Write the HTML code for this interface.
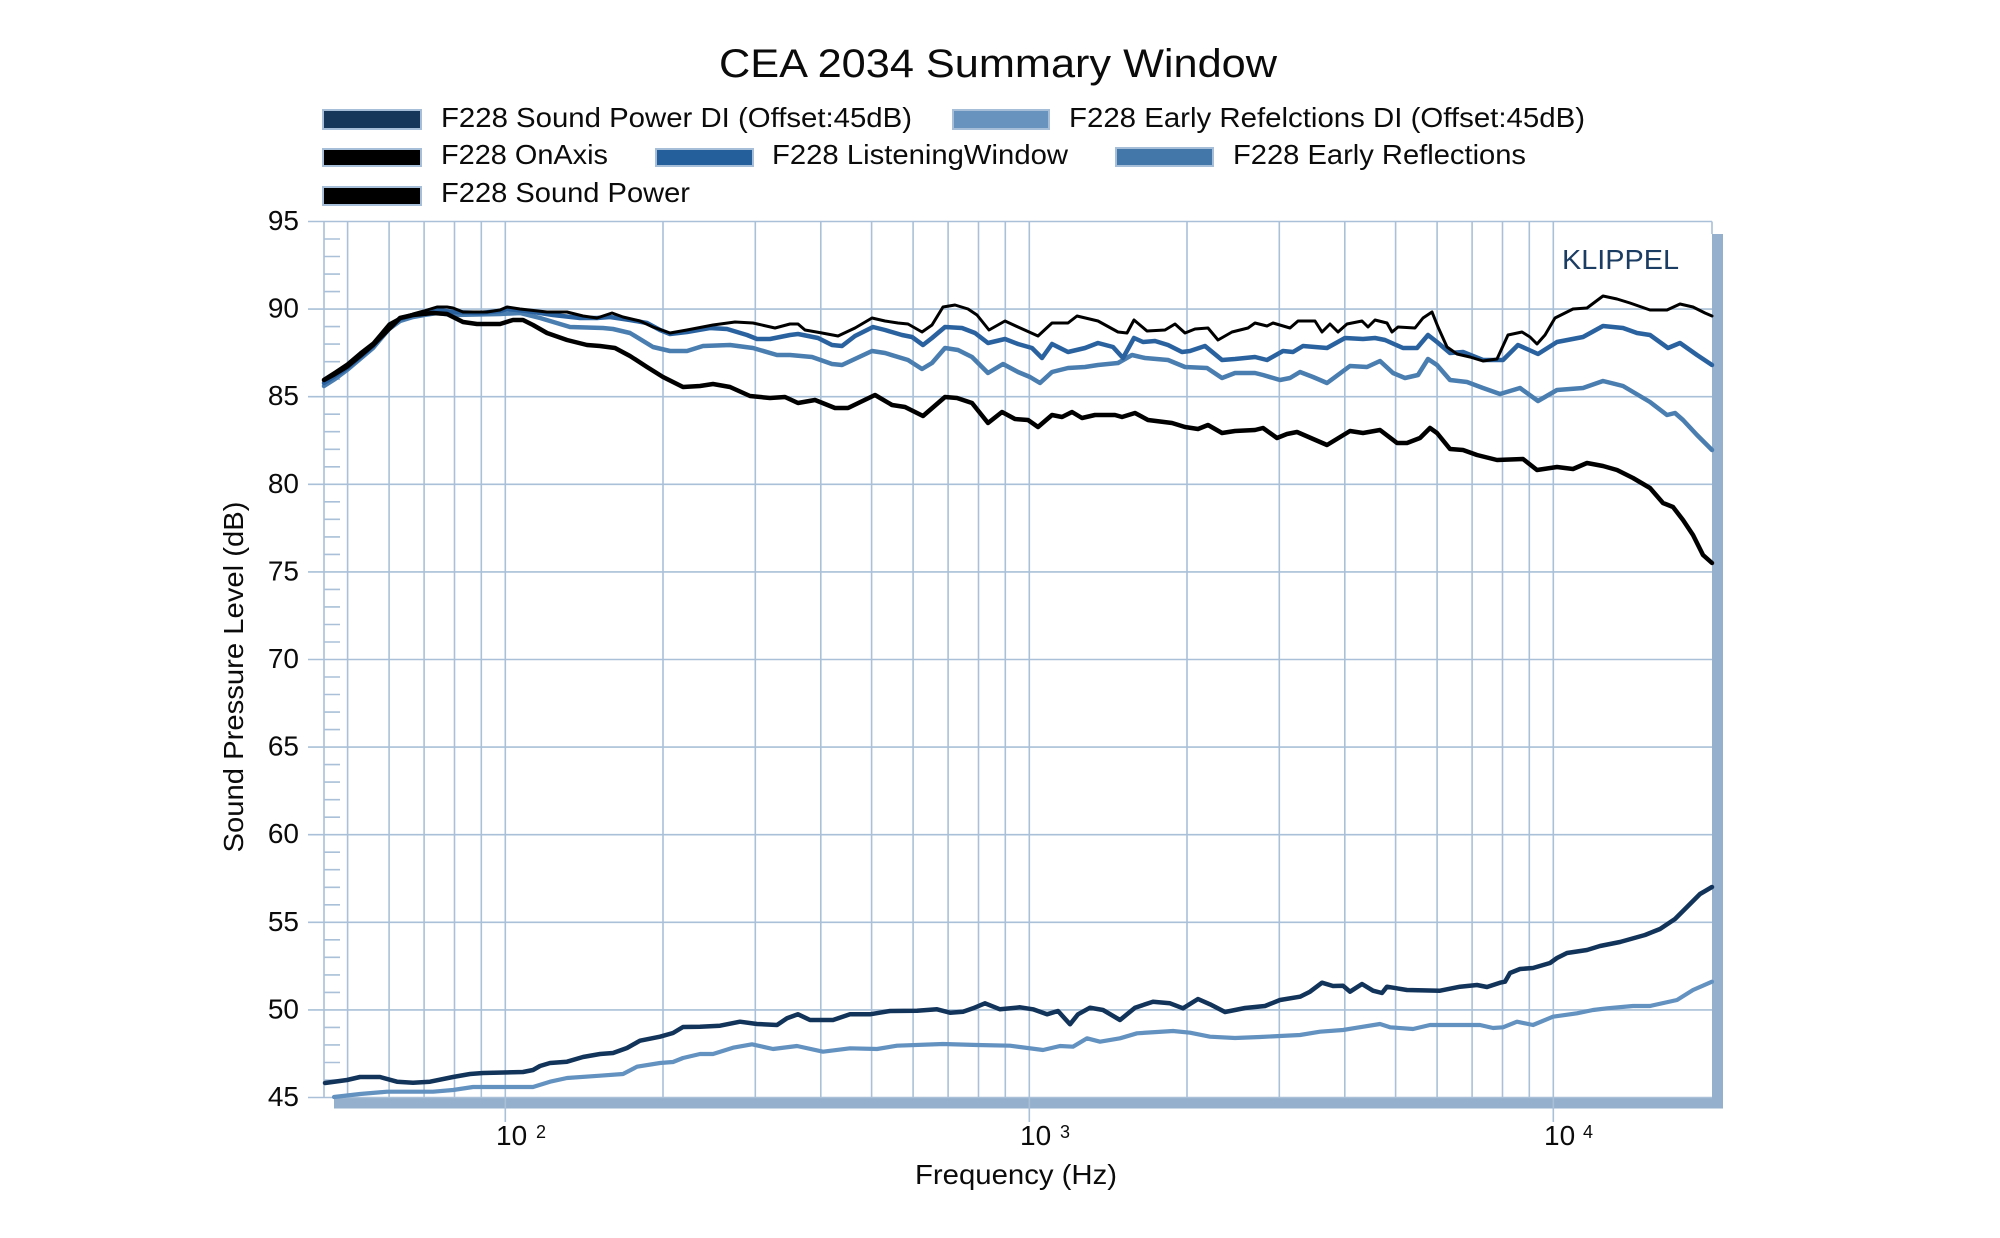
<!DOCTYPE html>
<html>
<head>
<meta charset="utf-8">
<style>
html,body{margin:0;padding:0;background:#fff;}
svg{display:block;}
text{font-family:"Liberation Sans",Arial,sans-serif;fill:#0b0b0b;}
</style>
</head>
<body>
<svg width="2000" height="1238" viewBox="0 0 2000 1238" xmlns="http://www.w3.org/2000/svg">
<rect x="0" y="0" width="2000" height="1238" fill="#fff"/>

<!-- Title -->
<text x="719" y="77" font-size="40" textLength="558" lengthAdjust="spacingAndGlyphs">CEA 2034 Summary Window</text>

<!-- Legend -->
<g stroke="#a6bed7" stroke-width="2">
<rect x="323" y="110" width="98" height="19" fill="#17375a"/>
<rect x="953" y="110" width="96" height="19" fill="#6893be"/>
<rect x="323" y="149" width="98" height="17" fill="#000"/>
<rect x="656" y="149" width="97" height="17" fill="#245f9b"/>
<rect x="1116" y="148" width="97" height="18" fill="#4477a9"/>
<rect x="323" y="187" width="98" height="18" fill="#000"/>
</g>
<g font-size="28">
<text x="441" y="127" textLength="471" lengthAdjust="spacingAndGlyphs">F228 Sound Power DI (Offset:45dB)</text>
<text x="1069" y="127" textLength="516" lengthAdjust="spacingAndGlyphs">F228 Early Refelctions DI (Offset:45dB)</text>
<text x="441" y="164" textLength="167" lengthAdjust="spacingAndGlyphs">F228 OnAxis</text>
<text x="772" y="164" textLength="296" lengthAdjust="spacingAndGlyphs">F228 ListeningWindow</text>
<text x="1233" y="164" textLength="293" lengthAdjust="spacingAndGlyphs">F228 Early Reflections</text>
<text x="441" y="202" textLength="249" lengthAdjust="spacingAndGlyphs">F228 Sound Power</text>
</g>

<!-- Shadow bars -->
<rect x="334" y="1098" width="1389" height="10.5" fill="#94b0cc"/>
<rect x="1712" y="234" width="11" height="874.5" fill="#94b0cc"/>

<!-- Grid -->
<g stroke="#a9c0d8" stroke-width="1.6" fill="none">
<!-- vertical gridlines -->
<path d="M347.6 221.5V1097.5M389.1 221.5V1097.5M424.1 221.5V1097.5M454.5 221.5V1097.5M481.3 221.5V1097.5M505.3 221.5V1122M663 221.5V1097.5M755.3 221.5V1097.5M820.8 221.5V1097.5M871.6 221.5V1097.5M913.1 221.5V1097.5M948.1 221.5V1097.5M978.5 221.5V1097.5M1005.3 221.5V1097.5M1029.3 221.5V1122M1187 221.5V1097.5M1279.3 221.5V1097.5M1344.8 221.5V1097.5M1395.6 221.5V1097.5M1437.1 221.5V1097.5M1472.1 221.5V1097.5M1502.5 221.5V1097.5M1529.3 221.5V1097.5M1553.3 221.5V1122"/>
<!-- horizontal gridlines -->
<path d="M308 221.5H1712M308 309.1H1712M308 396.7H1712M308 484.3H1712M308 571.9H1712M308 659.5H1712M308 747.1H1712M308 834.7H1712M308 922.3H1712M308 1009.9H1712M308 1097.5H1712"/>
<!-- axis and borders -->
<path d="M324 221.5V1097.5M1712 221.5V234"/>
<!-- minor ticks -->
<path d="M324 1080H340M324 1062.5H340M324 1044.9H340M324 1027.4H340M324 992.4H340M324 974.9H340M324 957.3H340M324 939.8H340M324 904.8H340M324 887.3H340M324 869.7H340M324 852.2H340M324 817.2H340M324 799.7H340M324 782.1H340M324 764.6H340M324 729.6H340M324 712.1H340M324 694.5H340M324 677H340M324 642H340M324 624.5H340M324 606.9H340M324 589.4H340M324 554.4H340M324 536.9H340M324 519.3H340M324 501.8H340M324 466.8H340M324 449.3H340M324 431.7H340M324 414.2H340M324 379.2H340M324 361.7H340M324 344.1H340M324 326.6H340M324 291.6H340M324 274.1H340M324 256.5H340M324 239H340"/>
</g>

<!-- Y tick labels -->
<g font-size="28" text-anchor="end">
<text x="299" y="230">95</text>
<text x="299" y="317.6">90</text>
<text x="299" y="405.2">85</text>
<text x="299" y="492.8">80</text>
<text x="299" y="580.4">75</text>
<text x="299" y="668">70</text>
<text x="299" y="755.6">65</text>
<text x="299" y="843.2">60</text>
<text x="299" y="930.8">55</text>
<text x="299" y="1018.4">50</text>
<text x="299" y="1106">45</text>
</g>

<!-- X tick labels -->
<g font-size="28">
<text x="496" y="1145">10</text>
<text x="1020" y="1145">10</text>
<text x="1544" y="1145">10</text>
</g>
<g font-size="18">
<text x="536" y="1138">2</text>
<text x="1060" y="1138">3</text>
<text x="1583" y="1138">4</text>
</g>

<!-- Axis titles -->
<text x="915" y="1184" font-size="28" textLength="202" lengthAdjust="spacingAndGlyphs">Frequency (Hz)</text>
<text transform="translate(243,677) rotate(-90)" font-size="28" text-anchor="middle" textLength="351" lengthAdjust="spacingAndGlyphs">Sound Pressure Level (dB)</text>

<!-- KLIPPEL -->
<text x="1562" y="269" font-size="28" textLength="117" lengthAdjust="spacingAndGlyphs" style="fill:#1c3d63">KLIPPEL</text>

<!-- Curves -->
<g fill="none" stroke-linejoin="round" stroke-linecap="round">
<!-- ER DI -->
<polyline stroke="#6391c0" stroke-width="4.2" points="334,1097 360,1094 387,1091.7 433,1091.7 453,1090 473,1087 533,1087 550,1081.7 567,1078 600,1075.7 623,1074 637,1066.7 660,1063 673,1062 683,1058 700,1054 713,1054 733,1047.7 752,1044.3 773,1049 797,1046 823,1051.7 850,1048.3 877,1049 897,1045.7 943,1044 977,1045 1010,1045.7 1043,1050 1060,1046 1073,1046.7 1087,1038.3 1100,1041.7 1120,1038.3 1137,1033.3 1173,1031 1190,1032.7 1210,1036.7 1235,1038 1260,1037 1300,1035 1320,1031.7 1343,1030 1357,1027.7 1380,1024 1390,1027.3 1413,1029 1430,1025 1480,1025 1493,1028 1503,1027.3 1517,1021.7 1533,1025 1553,1016.7 1577,1013.3 1593,1010 1607,1008.3 1633,1006 1650,1006 1677,1000 1693,990 1712,981.7"/>
<!-- SP DI -->
<polyline stroke="#12335a" stroke-width="4.5" points="325,1083 347,1080 360,1077 380,1077 397,1081.7 413,1082.7 430,1081.7 453,1077 470,1074 483,1073 523,1072 533,1070 540,1066 550,1063 567,1061.7 583,1057 600,1054 613,1053 627,1048 640,1040.7 660,1036.7 673,1033 683,1027 700,1026.7 720,1025.7 740,1021.7 757,1024 777,1025 787,1018.3 798,1014.3 810,1020 833,1020 850,1014.3 870,1014.3 890,1011 917,1010.7 937,1009.3 950,1012.7 963,1011.7 973,1008.3 985,1003.3 1000,1009.3 1020,1007.3 1033,1009.3 1047,1014.3 1058,1011 1070,1024.3 1078,1014.3 1090,1007.7 1103,1010 1120,1020 1135,1007.7 1153,1001.7 1170,1003.3 1183,1008.3 1198,999 1210,1004.3 1225,1012 1245,1008 1265,1006 1280,1000 1300,996.7 1310,991.7 1322,982.7 1333,986 1343,985.7 1350,991.7 1362,984 1373,990.7 1382,993 1387,986.7 1407,990 1440,990.7 1460,986.7 1477,985 1487,987 1500,982.7 1505,981.7 1510,973 1520,969 1533,968 1550,963 1557,958 1567,953 1587,950 1600,946 1620,942 1645,935 1660,929 1675,919 1690,904 1700,894 1712,887"/>
<!-- Early Reflections -->
<polyline stroke="#4a7db0" stroke-width="4.5" points="324,386 335,379 347,370 360,359 373,348 389,329 400,321 413,317 424,315 437,313 453,315 500,314 520,313 540,318 570,327 603,328 613,329 630,333 653,347 670,351 687,351 703,346 730,345 753,348 777,355 790,355 812,357 832,364 842,365 872,351 885,353 908,360 922,369 932,363 945,348 958,350 972,357 988,373 1003,364 1018,372 1030,377 1040,383 1052,372 1068,368 1085,367 1098,365 1118,363 1132,355 1145,358 1168,360 1185,367 1207,368 1222,378 1235,373 1255,373 1263,375 1280,380 1290,378 1300,372 1313,377 1327,383 1350,366 1367,367 1380,361 1393,373 1405,378 1418,375 1428,359 1437,365 1450,380 1467,382 1483,388 1500,394 1520,388 1538,401 1557,390 1583,388 1603,381 1623,386 1650,402 1667,415 1675,413 1683,420 1697,435 1712,450"/>
<!-- Listening Window -->
<polyline stroke="#2a62a0" stroke-width="4.5" points="324,383 335,376 347,368 360,357 373,346 389,327 400,319 413,315 424,313 437,310 453,312 480,313 500,311 507,309 527,311 553,315 580,318 597,318 610,317 630,320 647,323 660,330 670,334 687,332 710,328 727,329 747,335 757,339 770,339 790,335 798,334 818,338 832,345 842,346 855,336 873,327 885,330 902,335 912,337 923,345 932,338 945,327 962,328 975,333 988,343 1005,339 1018,344 1032,348 1042,358 1052,344 1068,352 1085,348 1098,343 1113,347 1123,358 1134,338 1143,342 1155,341 1168,345 1182,352 1190,351 1205,346 1222,360 1235,359 1255,357 1267,360 1283,351 1293,352 1303,346 1327,348 1345,338 1363,339 1375,338 1385,340 1403,348 1417,348 1428,335 1437,342 1450,353 1463,352 1483,360 1503,360 1518,345 1538,354 1557,342 1583,337 1603,326 1623,328 1637,333 1650,335 1668,348 1680,343 1697,355 1712,365"/>
<!-- Sound Power -->
<polyline stroke="#000" stroke-width="4.5" points="324,380 335,374 347,366.7 360,356 373,345 382,336 390,328 400,318 413,315 433,313 447,314 463,322 477,324 500,324 513,320 523,320 533,325 547,333 567,340 587,345 600,346 615,348 630,356 647,367 663,377 683,387 700,386 713,384 730,387 750,396 770,398 785,397 798,403 815,400 835,408 848,408 875,395 892,405 905,407 923,416 945,397 957,398 972,403 988,423 1002,412 1015,419 1028,420 1038,427 1052,415 1062,417 1072,412 1082,418 1095,415 1115,415 1122,417 1135,413 1148,420 1172,423 1185,427 1198,429 1208,425 1222,433 1235,431 1255,430 1263,428 1277,438 1287,434 1297,432 1327,445 1350,431 1363,433 1380,430 1397,443 1407,443 1420,438 1430,428 1437,433 1450,449 1463,450 1477,455 1497,460 1523,459 1537,470 1557,467 1573,469 1587,463 1603,466 1617,470 1633,478 1650,488 1663,503 1673,507 1683,520 1693,535 1703,555 1712,563"/>
<!-- On Axis -->
<polyline stroke="#000" stroke-width="3" points="324,379 335,372 347,364 360,353 373,343 389,324 400,318 413,314 424,311 437,307 447,307 453,308 463,312 487,312 500,310 507,307 520,309 547,312 567,312 583,316 597,318 612,313 623,317 640,321 653,327 670,333 687,330 713,325 735,322 753,323 775,328 790,324 798,324 805,330 822,333 838,336 855,328 872,318 885,321 898,323 908,324 922,332 932,325 943,307 955,305 968,309 977,315 989,330 1005,321 1018,327 1038,336 1052,323 1068,323 1077,316 1098,321 1118,332 1127,333 1134,320 1147,331 1165,330 1175,324 1185,333 1195,329 1208,328 1218,340 1232,332 1248,328 1255,323 1267,326 1273,323 1290,328 1298,321 1315,321 1322,332 1330,324 1338,332 1347,324 1362,321 1368,327 1375,320 1387,323 1392,332 1398,327 1415,328 1423,318 1432,312 1438,327 1447,347 1457,354 1470,357 1483,361 1497,359 1508,335 1522,332 1530,337 1537,344 1545,335 1555,318 1573,309 1587,308 1603,296 1617,299 1630,303 1650,310 1667,310 1680,304 1693,307 1705,313 1712,316"/>
</g>
</svg>
</body>
</html>
